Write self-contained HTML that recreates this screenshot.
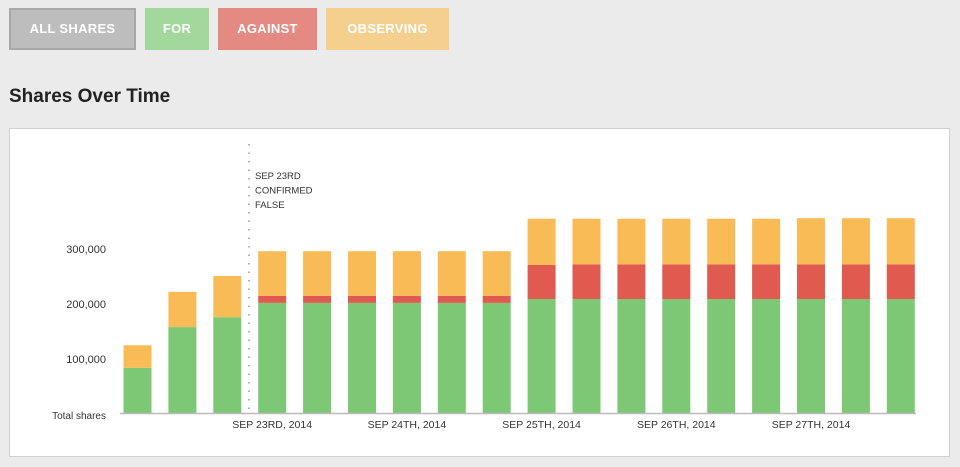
<!DOCTYPE html>
<html><head><meta charset="utf-8"><style>
body{margin:0;width:960px;height:467px;background:#ebebeb;font-family:"Liberation Sans",sans-serif;position:relative;overflow:hidden}
.btn{position:absolute;top:8px;height:42px;line-height:42px;color:#fff;font-weight:bold;font-size:13px;text-align:center;box-sizing:border-box;letter-spacing:.3px}
h1{position:absolute;left:9px;top:86px;margin:0;font-size:19px;line-height:22px;color:#222;font-weight:bold}
#box{position:absolute;left:9px;top:128px;width:941px;height:329px;background:#fff;border:1px solid #d0d0d0;box-sizing:border-box}
svg{position:absolute;left:0;top:0}
</style></head><body>
<div class="btn" style="left:9px;width:127px;background:#bdbdbd;border:2px solid #a8a8a8;line-height:38px">ALL SHARES</div>
<div class="btn" style="left:145px;width:64px;background:#a3d89c">FOR</div>
<div class="btn" style="left:218px;width:99px;background:#e48a83">AGAINST</div>
<div class="btn" style="left:326px;width:123px;background:#f5cf8e">OBSERVING</div>
<h1>Shares Over Time</h1>
<div id="box"></div>
<svg id="chart" width="960" height="467"></svg>
<script>
const forVals=[84000,158000,176000,202000,202000,202000,202000,202000,202000,209000,209000,209000,209000,209000,209000,209000,209000,209000];
const againstVals=[0,0,0,13000,13000,13000,13000,13000,13000,62000,63000,63000,63000,63000,63000,63000,63000,63000];
const observingVals=[41000,64000,75000,81000,81000,81000,81000,81000,81000,84000,83000,83000,83000,83000,83000,84000,84000,84000];
const yTicks=[100000,200000,300000];
const dateLabels=[[3,"SEP 23RD, 2014"],[6,"SEP 24TH, 2014"],[9,"SEP 25TH, 2014"],[12,"SEP 26TH, 2014"],[15,"SEP 27TH, 2014"]];
const NS="http://www.w3.org/2000/svg";
const svg=document.getElementById('chart');
const y0=414,pxPer=55/100000;
const yS=v=>y0-v*pxPer;
const xS=i=>123.5+i*44.9;
const bw=28;
function mk(t,a,txt){const e=document.createElementNS(NS,t);for(const k in a)e.setAttribute(k,a[k]);if(txt!=null)e.textContent=txt;svg.appendChild(e);return e;}
yTicks.forEach(v=>{
 const e=mk('text',{x:106,y:yS(v)+4,'text-anchor':'end','font-size':11,fill:'#333','font-family':'Liberation Sans'},v.toLocaleString('en-US'));
 
 
});
const t0=mk('text',{x:106,y:419,'text-anchor':'end','font-size':10,fill:'#333'},'Total shares');


forVals.forEach((f,i)=>{
 const a=againstVals[i],o=observingVals[i],x=xS(i);
 const segs=[[0,f,'#7dc874','bar-for'],[f,f+a,'#e05a50','bar-against'],[f+a,f+a+o,'#f8bb55','bar-observing']];
 segs.forEach(s=>{if(s[1]<=s[0])return;
  const r=mk('rect',{x:x,y:yS(s[1]),width:bw,height:yS(s[0])-yS(s[1]),fill:s[2]});
  
  
 });
});
const ax=mk('line',{x1:120,x2:916,y1:y0-0.5,y2:y0-0.5,stroke:'#bbb','stroke-width':1.5});


const dl=mk('line',{x1:249,x2:249,y1:144,y2:413,stroke:'#999','stroke-width':1.5,'stroke-dasharray':'1.5,7'});


["SEP 23RD","CONFIRMED","FALSE"].forEach((s,k)=>{
 const e=mk('text',{x:255,y:179+k*14.5,'font-size':9.5,fill:'#333'},s);
 
 
});
dateLabels.forEach(d=>{
 const e=mk('text',{x:xS(d[0])+bw/2,y:428,'text-anchor':'middle','font-size':10.5,fill:'#333'},d[1]);
 
 
});
</script>
</body></html>
